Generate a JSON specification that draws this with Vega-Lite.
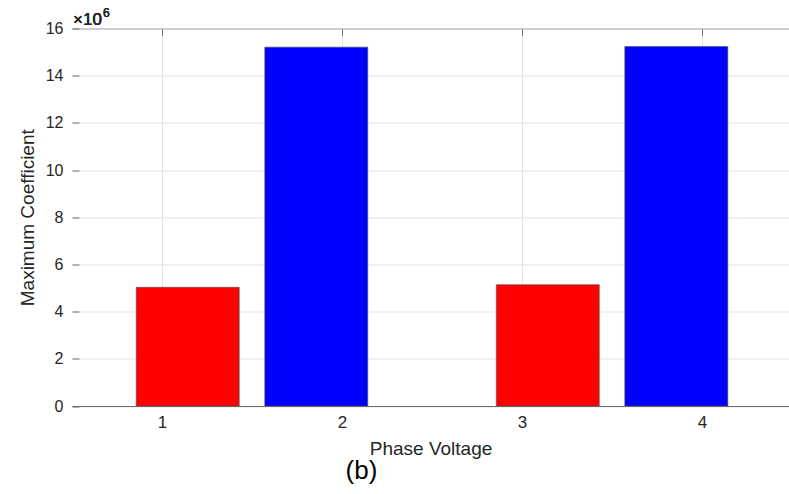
{
  "$schema": "https://vega.github.io/schema/vega-lite/v6.json",
  "width": 717,
  "height": 377.5,
  "autosize": "none",
  "padding": {"left": 72, "top": 28.5, "right": 0, "bottom": 88},
  "background": "white",
  "config": {
    "font": "Liberation Sans",
    "view": {"stroke": null},
    "axis": {"labelFont": "Liberation Sans", "titleFont": "Liberation Sans"}
  },
  "title": {
    "text": "(b)",
    "orient": "bottom",
    "anchor": "middle",
    "dx": -69,
    "offset": 0,
    "fontSize": 26,
    "fontWeight": "normal",
    "color": "#000000",
    "font": "Liberation Sans"
  },
  "data": {
    "values": [
      {"bar": "1", "series": "A", "start": 0.857, "end": 1.429, "value": 5030000},
      {"bar": "2", "series": "B", "start": 1.571, "end": 2.143, "value": 15210000},
      {"bar": "3", "series": "A", "start": 2.857, "end": 3.429, "value": 5140000},
      {"bar": "4", "series": "B", "start": 3.571, "end": 4.143, "value": 15240000}
    ]
  },
  "resolve": {"axis": {"x": "independent"}},
  "layer": [
    {
      "mark": {"type": "bar", "stroke": "#4d4d4d", "strokeWidth": 0.6},
      "encoding": {
        "x": {
          "field": "start",
          "type": "quantitative",
          "scale": {"domain": [0.5, 4.483], "nice": false, "zero": false},
          "axis": {
            "orient": "bottom",
            "values": [1, 2, 3, 4],
            "format": "d",
            "title": "Phase Voltage",
            "grid": true,
            "gridColor": "#e3e3e3",
            "gridWidth": 1,
            "domainColor": "#6e6e6e",
            "domainWidth": 1,
            "tickColor": "#6e6e6e",
            "tickSize": -7,
            "labelFontSize": 17,
            "labelColor": "#262626",
            "labelPadding": 15,
            "titleFontSize": 19,
            "titleFontWeight": "normal",
            "titleColor": "#262626",
            "titlePadding": 9
          }
        },
        "x2": {"field": "end"},
        "y": {
          "field": "value",
          "type": "quantitative",
          "scale": {"domain": [0, 16000000], "nice": false},
          "axis": {
            "values": [0, 2000000, 4000000, 6000000, 8000000, 10000000, 12000000, 14000000, 16000000],
            "labelExpr": "format(datum.value / 1000000, 'd')",
            "title": "Maximum Coefficient",
            "grid": true,
            "gridColor": "#e3e3e3",
            "gridWidth": 1,
            "domain": false,
            "tickColor": "#6e6e6e",
            "tickSize": -7,
            "labelFontSize": 16,
            "labelColor": "#262626",
            "labelPadding": 16,
            "titleFontSize": 19,
            "titleFontWeight": "normal",
            "titleColor": "#262626",
            "titlePadding": 8
          }
        },
        "y2": {"datum": 0},
        "color": {
          "field": "series",
          "type": "nominal",
          "scale": {"domain": ["A", "B"], "range": ["#ff0000", "#0000ff"]},
          "legend": null
        }
      }
    },
    {
      "mark": {"type": "rule", "opacity": 0},
      "encoding": {
        "x": {
          "datum": 1,
          "type": "quantitative",
          "axis": {
            "orient": "top",
            "values": [1, 2, 3, 4],
            "labels": false,
            "title": null,
            "grid": false,
            "domainColor": "#ababab",
            "domainWidth": 1,
            "tickColor": "#6e6e6e",
            "tickSize": -7
          }
        }
      }
    },
    {
      "mark": {"type": "text", "align": "left", "baseline": "alphabetic", "fontSize": 17, "fontWeight": "normal", "color": "#262626", "dx": 1, "dy": -3.5, "font": "Liberation Sans"},
      "encoding": {
        "x": {"datum": 0.5, "type": "quantitative", "axis": null},
        "y": {"datum": 16000000, "type": "quantitative"},
        "text": {"value": "×10"}
      }
    },
    {
      "mark": {"type": "text", "align": "left", "baseline": "alphabetic", "fontSize": 12, "fontWeight": "normal", "color": "#262626", "dx": 31, "dy": -11.5, "font": "Liberation Sans"},
      "encoding": {
        "x": {"datum": 0.5, "type": "quantitative", "axis": null},
        "y": {"datum": 16000000, "type": "quantitative"},
        "text": {"value": "6"}
      }
    }
  ]
}
